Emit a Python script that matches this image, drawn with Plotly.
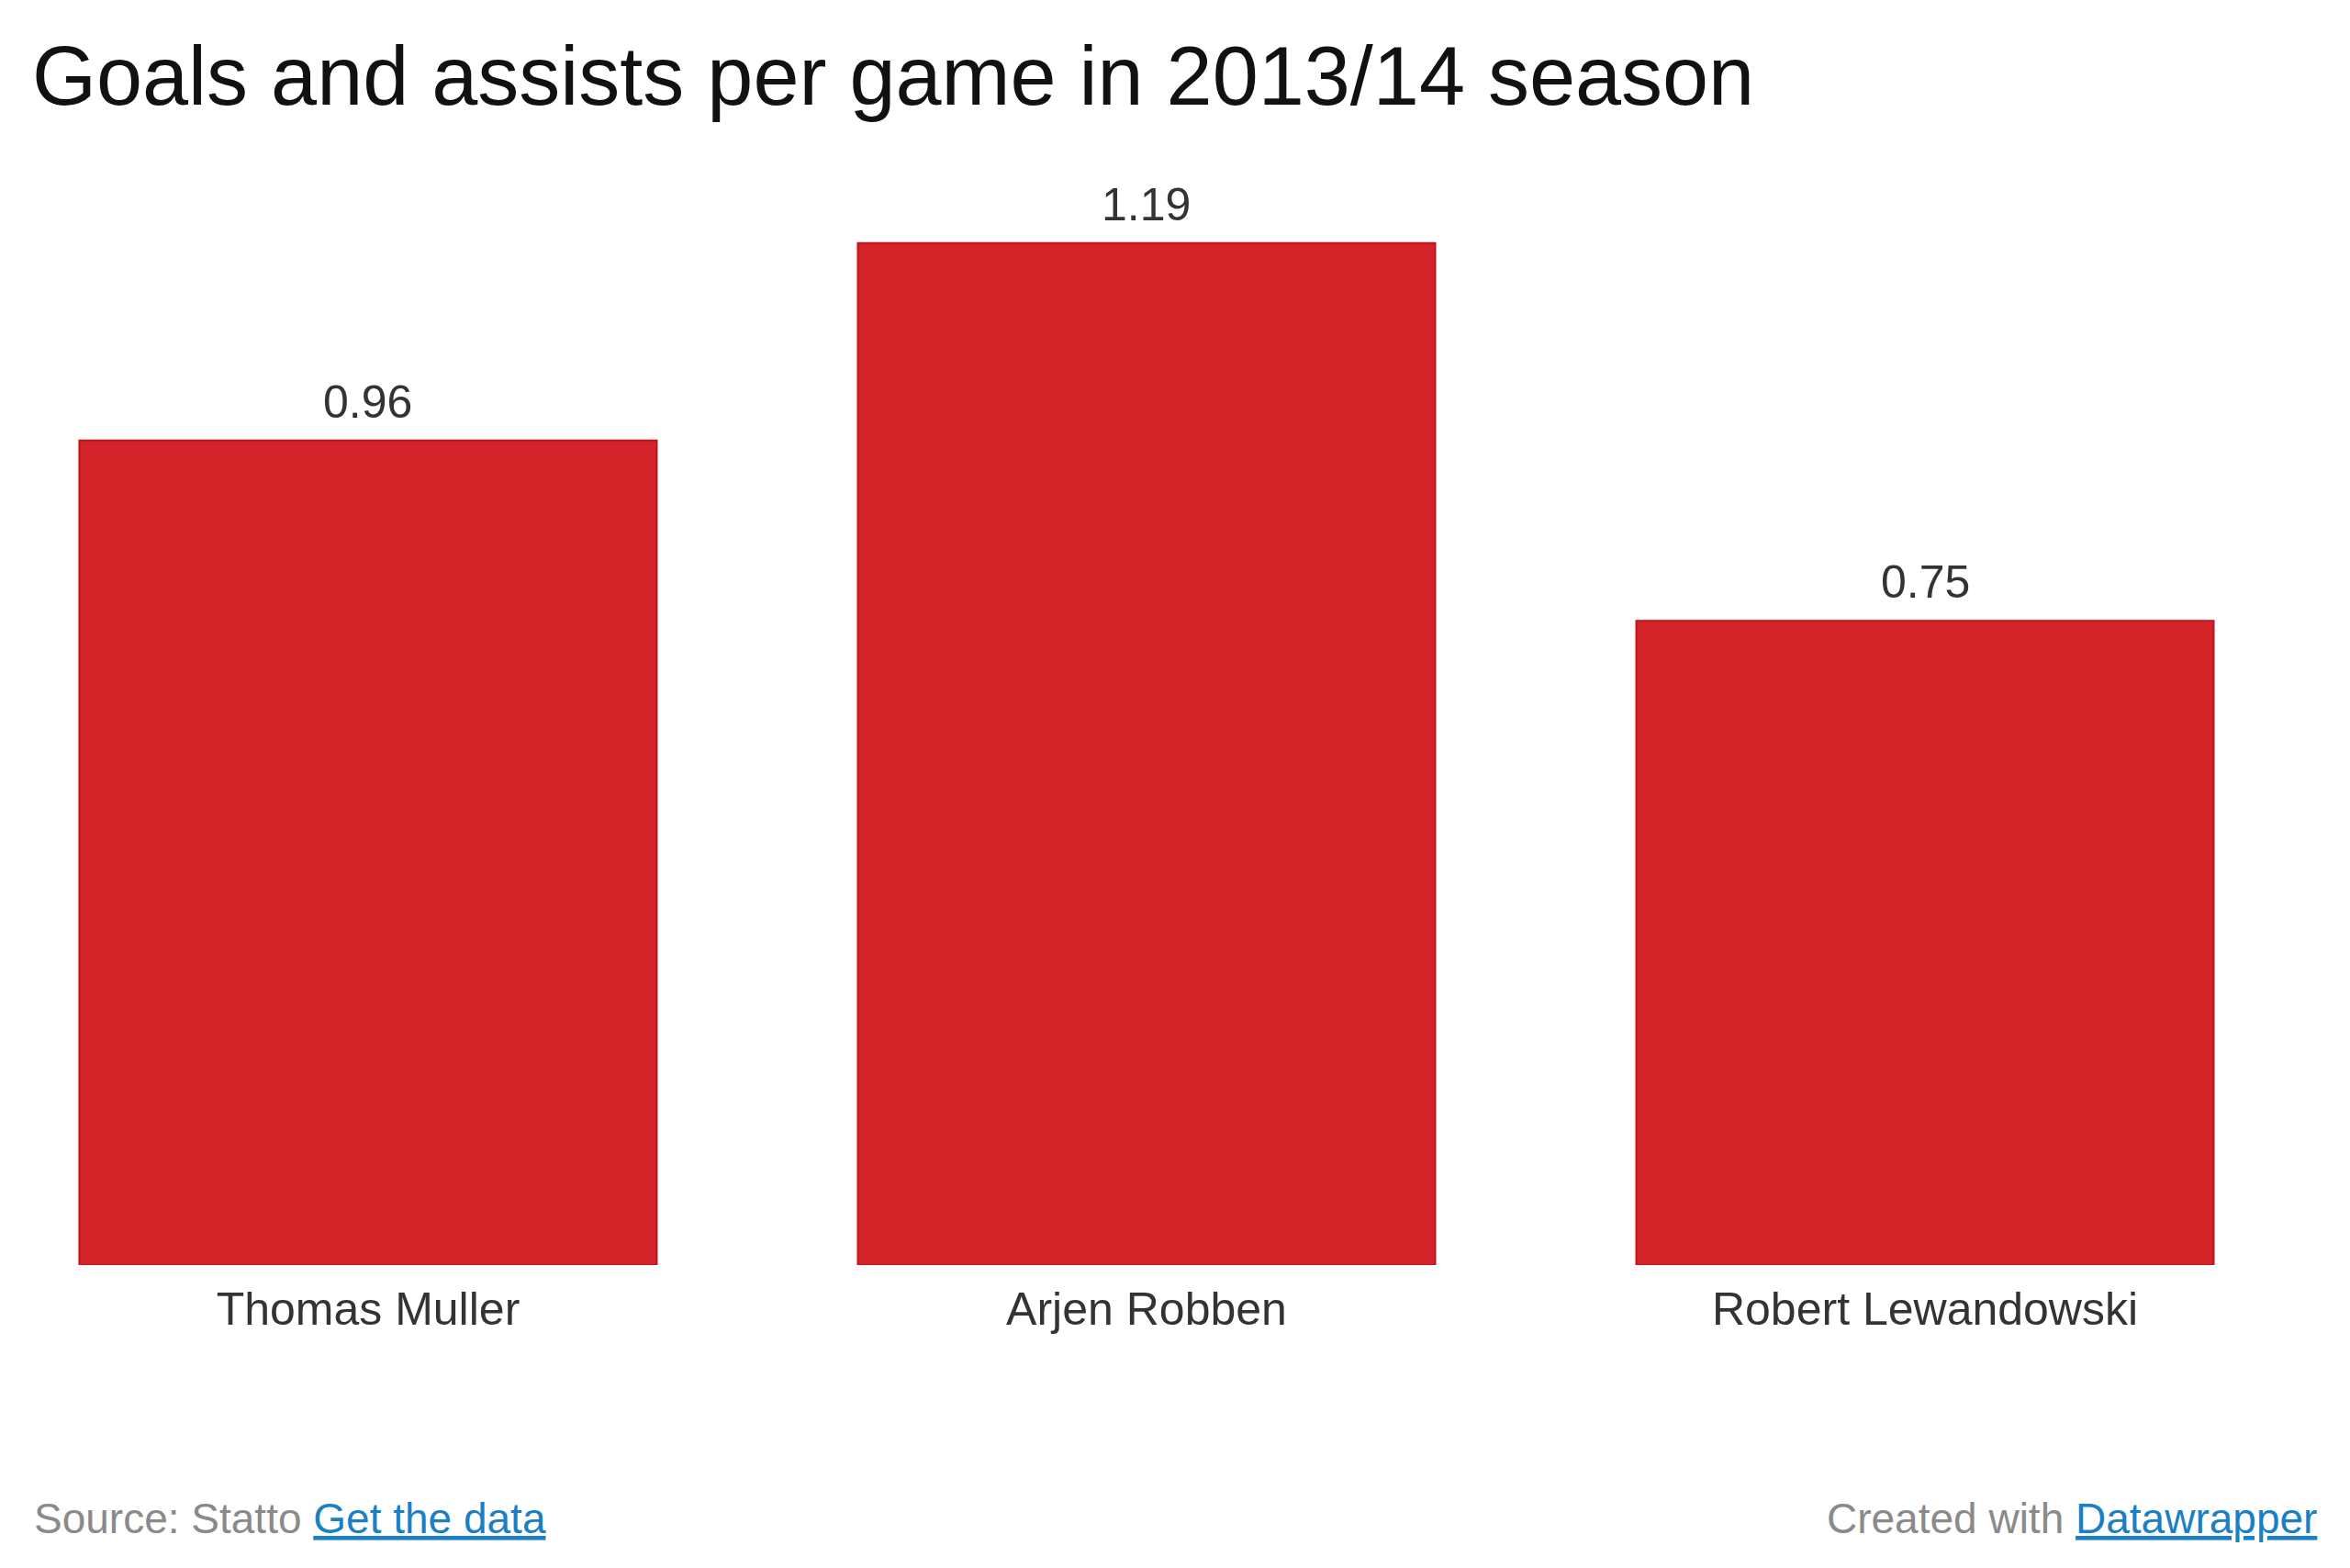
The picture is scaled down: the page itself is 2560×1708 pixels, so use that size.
import plotly.graph_objects as go

# Data
players = ['Thomas Muller', 'Arjen Robben', 'Robert Lewandowski']
per_game = [0.96, 1.19, 0.75]
value_labels = ['0.96', '1.19', '0.75']

bar_fill = '#d52429'
bar_edge = '#c0121b'
text_dark = '#333333'

trace = go.Bar(
    x=players, y=per_game, width=0.7417,
    marker={'color': bar_fill, 'line': {'color': bar_edge, 'width': 2}},
    hoverinfo='x+y'
)

# value labels above each bar
annotations = [
    dict(x=p, y=v, text=t, showarrow=False, xref='x', yref='y',
         yanchor='bottom', yshift=12,
         font=dict(family='Liberation Sans, Arial, sans-serif', size=50, color=text_dark))
    for p, v, t in zip(players, per_game, value_labels)
]

# footer
footer_font = dict(family='Liberation Sans, Arial, sans-serif', size=46, color='#8a8a8a')
annotations.append(dict(
    x=27 / 2560, y=-0.2262, xref='paper', yref='paper', xanchor='left', yanchor='middle',
    showarrow=False, font=footer_font,
    text='Source: Statto <span style="color:#1a7fc4"><u>Get the data</u></span>'))
annotations.append(dict(
    x=2518 / 2560, y=-0.2262, xref='paper', yref='paper', xanchor='right', yanchor='middle',
    showarrow=False, font=footer_font,
    text='Created with <span style="color:#1a7fc4"><u>Datawrapper</u></span>'))

layout = go.Layout(
    width=2560, height=1708,
    margin=dict(l=0, r=0, t=150, b=338),
    paper_bgcolor='white', plot_bgcolor='white',
    title=dict(text='Goals and assists per game in 2013/14 season',
               x=27 / 2560, xref='container', xanchor='left',
               y=1 - 74 / 1708, yref='container', yanchor='middle',
               font=dict(family='Liberation Sans, Arial, sans-serif', size=90, color='#111111')),
    xaxis=dict(range=[-0.4634, 2.5554], showgrid=False, zeroline=False, showline=False,
               ticks='', ticklabelstandoff=14,
               tickfont=dict(family='Liberation Sans, Arial, sans-serif', size=50, color=text_dark)),
    yaxis=dict(range=[0, 1.304], visible=False),
    showlegend=False,
    annotations=annotations,
)

fig = go.Figure(data=[trace], layout=layout)
fig.write_html('out.html')
